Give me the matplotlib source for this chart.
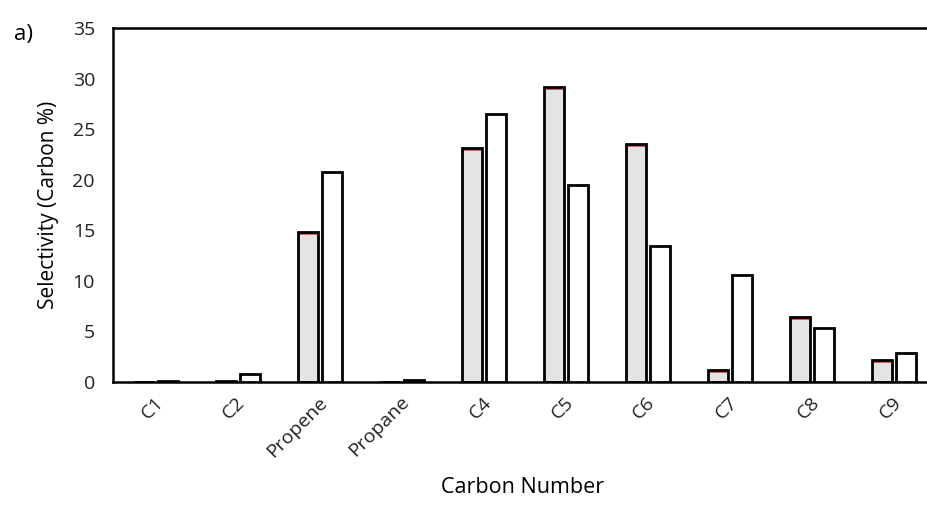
import matplotlib
matplotlib.use("Agg")
import matplotlib.pyplot as plt
import numpy as np

plt.rcParams['font.family'] = ['Open Sans', 'DejaVu Sans']

categories = ["C1", "C2", "Propene", "Propane", "C4", "C5", "C6", "C7", "C8", "C9"]
series_grey = [0.0, 0.1, 14.5, 0.0, 22.8, 28.9, 23.2, 0.9, 6.1, 1.9]
series_red = [0.0, 0.0, 0.15, 0.0, 0.15, 0.15, 0.15, 0.15, 0.15, 0.15]
series_blue = [0.0, 0.0, 0.15, 0.0, 0.15, 0.15, 0.15, 0.15, 0.15, 0.15]
series_white = [0.1, 0.8, 20.8, 0.2, 26.5, 19.5, 13.4, 10.6, 5.3, 2.9]

fig = plt.figure(figsize=(9.28, 5.17), dpi=100)
ax = fig.add_axes([113/928, 135/517, 820/928, 354/517])

x = np.arange(len(categories))
w = 0.24
xg = x - 0.12
xw = x + 0.17

grey = np.array(series_grey)
red = np.array(series_red)
blue = np.array(series_blue)
ax.bar(xg, grey, w, color='#e4e4e4', edgecolor='none', zorder=2)
ax.bar(xg, red, w, bottom=grey, color='#e05a5a', edgecolor='none', zorder=2)
ax.bar(xg, blue, w, bottom=grey + red, color='#5a7ae0', edgecolor='none', zorder=2)
ax.bar(xg, grey + red + blue, w, color='none', edgecolor='black', linewidth=2.0, zorder=3)
ax.bar(xw, series_white, w, color='white', edgecolor='black', linewidth=2.0, zorder=3)

ax.set_xlim(-0.5, len(categories) - 0.5)
ax.set_ylim(0, 35)
ax.set_yticks(np.arange(0, 36, 5))
ax.set_xticks(x)
ax.set_xticklabels(categories, rotation=45, ha='right', rotation_mode='anchor')
ax.tick_params(axis='both', length=0, labelsize=14, colors='#222222')
ax.tick_params(axis='y', pad=13)
ax.tick_params(axis='x', pad=8)
for s in ax.spines.values():
    s.set_linewidth(1.8)
    s.set_color('black')

ax.set_ylabel("Selectivity (Carbon %)", fontsize=15, labelpad=10)
ax.set_xlabel("Carbon Number", fontsize=15.5, labelpad=12)
fig.text(14/928, 1 - 40/517, "a)", fontsize=16)

fig.savefig("out.png", dpi=100)
